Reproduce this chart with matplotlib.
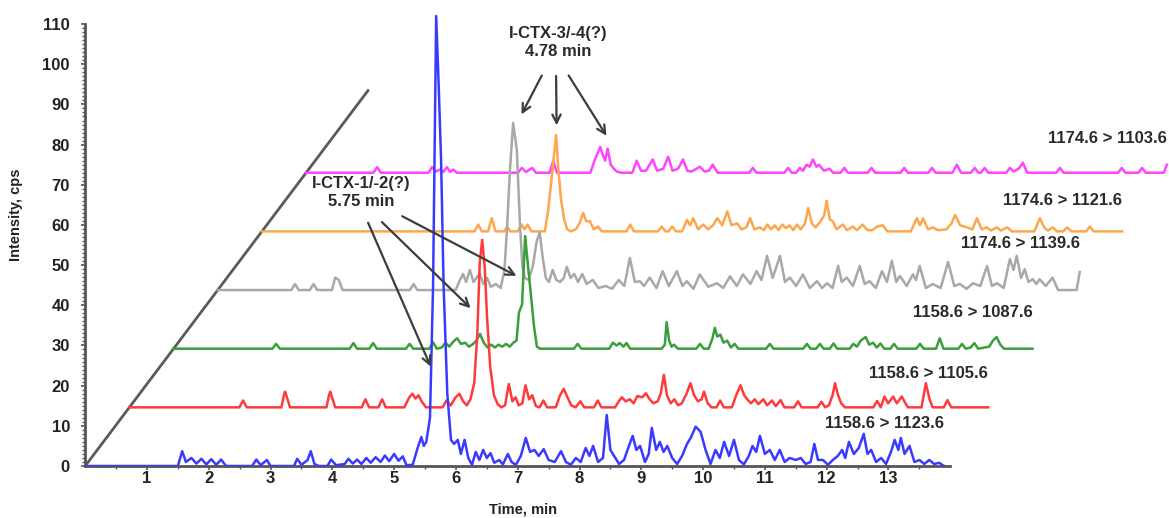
import matplotlib
matplotlib.use("Agg")
import matplotlib.pyplot as plt
from matplotlib.ticker import MultipleLocator

# Each trace: (time in own run, intensity in cps).
# Traces are drawn staggered right/up, like the instrument's 3D overlay.
blue_pts = [(0, 0), (1.5, 0), (1.57, 3.7), (1.63, 1.0), (1.72, 2.0), (1.8, 0.6), (1.88, 1.8), (1.96, 0.4),
            (2.04, 1.7), (2.12, 0.3), (2.2, 1.6), (2.28, 0), (2.7, 0), (2.77, 1.6), (2.84, 0.2), (2.94, 1.5),
            (3.0, 0), (3.38, 0), (3.43, 1.8), (3.5, 0.3), (3.6, 1.5), (3.65, 3.7), (3.71, 0.5), (3.78, 0),
            (3.92, 0), (3.98, 1.6), (4.06, 0.2), (4.2, 0.5), (4.26, 1.8), (4.33, 0.6), (4.4, 1.6), (4.47, 0.5),
            (4.55, 2.0), (4.62, 0.8), (4.7, 2.2), (4.78, 1.0), (4.85, 2.6), (4.92, 1.2), (5.0, 3.0), (5.07, 1.3),
            (5.14, 2.4), (5.2, 0.2), (5.3, 0.3), (5.38, 4.5), (5.44, 7.2), (5.48, 5.0), (5.52, 6.0), (5.58, 12),
            (5.63, 45), (5.68, 112), (5.72, 95), (5.76, 76), (5.8, 45), (5.86, 18), (5.92, 6.5), (5.97, 5.5),
            (6.03, 6.5), (6.08, 3.0), (6.14, 6.5), (6.2, 2.0), (6.26, 0.3), (6.32, 3.5), (6.38, 1.5), (6.44, 4.0),
            (6.5, 2.0), (6.56, 3.2), (6.62, 0.8), (6.7, 1.5), (6.76, 0.4), (6.84, 3.0), (6.9, 1.0), (6.97, 0.3),
            (7.05, 2.5), (7.13, 7.0), (7.2, 3.5), (7.27, 4.0), (7.34, 2.5), (7.42, 4.2), (7.5, 1.5), (7.6, 1.0),
            (7.7, 3.7), (7.78, 1.0), (7.86, 0.3), (7.94, 2.0), (8.02, 1.0), (8.1, 4.5), (8.16, 2.5), (8.22, 5.0),
            (8.3, 1.0), (8.38, 2.0), (8.44, 12.7), (8.5, 4.0), (8.56, 2.5), (8.64, 0.5), (8.72, 1.5), (8.8, 5.0),
            (8.86, 7.5), (8.92, 4.0), (8.98, 5.0), (9.06, 1.0), (9.12, 3.0), (9.17, 9.5), (9.24, 4.0), (9.3, 6.0),
            (9.36, 3.5), (9.42, 5.0), (9.5, 2.0), (9.58, 0.5), (9.66, 2.5), (9.74, 5.5), (9.8, 7.0), (9.88, 9.8),
            (9.96, 8.5), (10.04, 4.0), (10.12, 0.5), (10.2, 4.0), (10.27, 2.0), (10.34, 6.0), (10.42, 2.5),
            (10.5, 6.5), (10.58, 1.5), (10.66, 0.4), (10.74, 2.5), (10.8, 5.0), (10.86, 3.5), (10.92, 7.5),
            (11.0, 3.0), (11.08, 4.0), (11.16, 1.5), (11.24, 4.0), (11.32, 1.0), (11.4, 2.0), (11.5, 1.5),
            (11.58, 2.0), (11.66, 0.5), (11.74, 1.0), (11.8, 5.5), (11.86, 1.5), (11.94, 1.5), (12.02, 0.3),
            (12.1, 1.5), (12.18, 2.5), (12.25, 4.0), (12.3, 2.0), (12.36, 6.0), (12.44, 3.0), (12.52, 4.5),
            (12.6, 8.0), (12.66, 3.0), (12.72, 4.0), (12.8, 1.0), (12.88, 2.0), (12.96, 0.5), (13.04, 3.5),
            (13.1, 6.5), (13.16, 4.0), (13.2, 7.0), (13.26, 3.0), (13.34, 5.0), (13.42, 1.0), (13.5, 1.5),
            (13.58, 0.5), (13.66, 1.5), (13.74, 0.5), (13.82, 0.8), (13.9, 0)]

red_pts = [(0, 0), (1.78, 0), (1.84, 1.7), (1.9, 0), (2.46, 0), (2.5, 3.0), (2.52, 3.9), (2.56, 2.0), (2.6, 0),
           (3.19, 0), (3.23, 3.0), (3.25, 3.9), (3.29, 2.0), (3.33, 0), (3.76, 0), (3.82, 2.0), (3.88, 0),
           (4.03, 0), (4.09, 2.0), (4.15, 0), (4.45, 0), (4.53, 2.5), (4.58, 3.4), (4.63, 2.2), (4.68, 3.0),
           (4.73, 1.5), (4.8, 0), (5.07, 0), (5.13, 1.7), (5.2, 0.5), (5.28, 2.5), (5.34, 3.4), (5.4, 1.5),
           (5.46, 0.5), (5.52, 2.0), (5.58, 6.0), (5.63, 18), (5.67, 36), (5.71, 41.7), (5.75, 35), (5.79, 22),
           (5.84, 10), (5.9, 3.0), (5.96, 0.8), (6.02, 0), (6.08, 0.5), (6.14, 5.8), (6.2, 1.5), (6.25, 2.5),
           (6.3, 0.5), (6.36, 1.0), (6.41, 5.5), (6.47, 2.0), (6.52, 3.0), (6.58, 0.3), (6.64, 0), (6.7, 1.7),
           (6.76, 0), (6.9, 0), (6.97, 3.0), (7.03, 4.6), (7.09, 2.5), (7.15, 0.5), (7.22, 0), (7.3, 1.5),
           (7.36, 0), (7.52, 0), (7.58, 1.7), (7.64, 0), (7.86, 0), (7.92, 1.5), (7.97, 2.5), (8.03, 1.5),
           (8.1, 2.0), (8.16, 1.0), (8.22, 2.8), (8.3, 2.5), (8.36, 3.5), (8.42, 2.0), (8.48, 1.0), (8.55, 1.5),
           (8.6, 3.5), (8.65, 8.1), (8.7, 3.0), (8.76, 1.0), (8.82, 2.0), (8.88, 0.5), (8.94, 1.0), (9.02, 3.5),
           (9.08, 6.0), (9.14, 3.0), (9.2, 1.5), (9.26, 2.0), (9.3, 3.9), (9.36, 1.0), (9.42, 0), (9.5, 0),
           (9.56, 1.7), (9.62, 0), (9.75, 0), (9.82, 3.0), (9.89, 5.5), (9.95, 3.0), (10.0, 2.0), (10.06, 1.0),
           (10.12, 2.0), (10.18, 0.8), (10.26, 2.0), (10.32, 0.5), (10.4, 1.7), (10.46, 0.3), (10.54, 1.8),
           (10.6, 0), (10.76, 0), (10.82, 1.5), (10.88, 0), (11.14, 0), (11.2, 1.4), (11.26, 0), (11.32, 0.5),
           (11.38, 3.0), (11.42, 6.0), (11.47, 3.0), (11.52, 1.0), (11.58, 0), (12.04, 0), (12.1, 1.6),
           (12.16, 0), (12.22, 2.7), (12.28, 1.0), (12.36, 2.7), (12.42, 1.0), (12.5, 2.7), (12.56, 1.0),
           (12.6, 0), (12.82, 0), (12.89, 6.0), (12.95, 2.0), (13.0, 0), (13.18, 0), (13.24, 1.8), (13.3, 0),
           (13.9, 0)]

green_pts = [(0, 0), (1.6, 0), (1.66, 1.2), (1.72, 0), (2.85, 0), (2.91, 1.4), (2.97, 0), (3.17, 0), (3.23, 1.4),
             (3.29, 0), (3.76, 0), (3.82, 1.2), (3.88, 0), (4.14, 0), (4.2, 1.6), (4.26, 0), (4.34, 0.3),
             (4.4, 1.5), (4.46, 0.5), (4.53, 1.8), (4.59, 2.6), (4.65, 1.2), (4.72, 1.5), (4.78, 0.5), (4.85, 1.2),
             (4.9, 2.0), (4.96, 3.7), (5.02, 1.5), (5.08, 0.3), (5.14, 1.0), (5.2, 0.3), (5.26, 1.0), (5.32, 0.5),
             (5.38, 1.2), (5.44, 0.5), (5.5, 1.5), (5.55, 2.0), (5.59, 9.0), (5.64, 11), (5.69, 28), (5.74, 20),
             (5.78, 14), (5.83, 6), (5.88, 0.5), (5.93, 0), (6.48, 0), (6.54, 1.2), (6.6, 0), (7.05, 0),
             (7.11, 1.5), (7.17, 0.8), (7.22, 1.4), (7.28, 0.5), (7.33, 1.4), (7.39, 0), (7.9, 0), (7.95, 1.0),
             (7.98, 6.6), (8.02, 2.0), (8.06, 0.5), (8.1, 1.0), (8.16, 0), (8.46, 0), (8.52, 1.2), (8.58, 0),
             (8.66, 0), (8.72, 2.5), (8.76, 5.2), (8.8, 3.0), (8.85, 3.5), (8.9, 1.5), (8.96, 2.0), (9.02, 0.3),
             (9.08, 1.2), (9.14, 0), (9.59, 0), (9.65, 1.2), (9.71, 0), (10.19, 0), (10.25, 1.2), (10.31, 0),
             (10.4, 0), (10.46, 1.2), (10.52, 0), (10.62, 0), (10.68, 1.3), (10.74, 0), (10.94, 0), (11.0, 1.2),
             (11.06, 0.5), (11.12, 2.0), (11.2, 2.9), (11.26, 1.0), (11.32, 1.5), (11.38, 0.3), (11.44, 1.3),
             (11.5, 0), (11.6, 0), (11.66, 1.2), (11.72, 0), (12.02, 0), (12.08, 1.2), (12.14, 0), (12.34, 0),
             (12.4, 2.6), (12.46, 0), (12.7, 0), (12.76, 1.2), (12.82, 0), (12.9, 0.3), (12.96, 1.4), (13.02, 0),
             (13.2, 0.5), (13.26, 2.0), (13.32, 2.9), (13.38, 1.0), (13.44, 0), (13.9, 0)]

gray_pts = [(0, 0), (1.19, 0), (1.25, 1.5), (1.31, 0), (1.49, 0), (1.55, 1.5), (1.61, 0), (1.85, 0), (1.9, 3.1),
            (1.96, 2.5), (2.02, 0), (3.11, 0), (3.17, 1.5), (3.23, 0), (3.85, 0), (3.92, 2.5), (3.97, 4.0),
            (4.02, 2.0), (4.08, 5.0), (4.14, 2.0), (4.2, 3.3), (4.24, 4.0), (4.3, 1.5), (4.36, 3.0), (4.42, 0.8),
            (4.5, 1.5), (4.58, 0.5), (4.64, 5), (4.68, 15), (4.73, 30), (4.78, 41.6), (4.84, 35), (4.89, 16.7),
            (4.93, 6), (4.97, 3.0), (5.03, 2.5), (5.1, 6), (5.16, 12), (5.21, 14.4), (5.26, 8), (5.31, 3),
            (5.36, 2), (5.42, 5), (5.48, 2.5), (5.54, 2), (5.6, 3), (5.65, 5.8), (5.71, 3.0), (5.77, 4.0),
            (5.83, 2.0), (5.9, 4.0), (5.97, 1.5), (6.07, 2.5), (6.16, 0.5), (6.28, 1.0), (6.38, 0.3), (6.49, 2.5),
            (6.58, 1.0), (6.67, 8.0), (6.75, 2.0), (6.83, 2.2), (6.9, 1.0), (6.99, 3.1), (7.1, 0.5), (7.2, 4.7),
            (7.3, 1.0), (7.43, 4.7), (7.52, 1.0), (7.59, 2.2), (7.7, 0.3), (7.8, 3.9), (7.94, 0.8), (8.08, 1.7),
            (8.18, 0.5), (8.29, 3.4), (8.4, 1.0), (8.5, 3.9), (8.62, 1.5), (8.72, 4.7), (8.8, 2.5), (8.89, 8.5),
            (8.98, 3.0), (9.1, 8.5), (9.18, 2.0), (9.26, 3.1), (9.36, 1.0), (9.47, 3.9), (9.58, 0.5), (9.7, 2.2),
            (9.78, 0.5), (9.86, 1.7), (9.95, 0.5), (10.04, 6.0), (10.1, 2.0), (10.18, 3.1), (10.28, 1.0),
            (10.39, 6.0), (10.47, 1.5), (10.55, 2.2), (10.65, 0.5), (10.75, 4.7), (10.83, 2.0), (10.91, 7.3),
            (10.98, 2.0), (11.04, 3.5), (11.15, 1.0), (11.25, 3.9), (11.3, 2.5), (11.36, 6.0), (11.46, 0.5),
            (11.57, 1.5), (11.7, 0.5), (11.82, 7.0), (11.92, 1.0), (12.01, 1.5), (12.12, 0.3), (12.22, 1.7),
            (12.34, 1.0), (12.45, 6.0), (12.53, 1.0), (12.61, 1.7), (12.72, 0.5), (12.82, 7.7), (12.88, 5.0),
            (12.93, 8.5), (13.0, 3.0), (13.06, 5.2), (13.12, 2.0), (13.19, 2.7), (13.25, 1.5), (13.3, 2.7),
            (13.4, 1.0), (13.51, 3.1), (13.6, 0), (13.9, 0), (13.95, 4.5)]

orange_pts = [(0, 0), (3.44, 0), (3.5, 1.7), (3.56, 0), (3.66, 0), (3.72, 3.3), (3.78, 0), (3.92, 0), (3.97, 1.2),
              (4.02, 0), (4.14, 0), (4.2, 1.7), (4.25, 0.5), (4.3, 1.7), (4.36, 0), (4.58, 0), (4.63, 5),
              (4.68, 12), (4.72, 18), (4.76, 24), (4.8, 15), (4.84, 8), (4.89, 3), (4.94, 0.5), (5.0, 0),
              (5.08, 0.5), (5.14, 2.0), (5.2, 4.6), (5.25, 2.5), (5.31, 2.5), (5.37, 0.5), (5.44, 1.2), (5.5, 0),
              (5.9, 0), (5.96, 1.7), (6.02, 0), (6.41, 0), (6.47, 1.2), (6.53, 0), (6.58, 0), (6.64, 1.2),
              (6.7, 0), (6.8, 0), (6.88, 2.9), (6.93, 1.5), (6.98, 3.3), (7.06, 0.5), (7.14, 1.7), (7.22, 0.5),
              (7.3, 1.5), (7.37, 3.3), (7.45, 1.5), (7.53, 5.0), (7.6, 1.5), (7.69, 2.0), (7.76, 0.5), (7.84, 1.0),
              (7.9, 3.3), (7.97, 0.5), (8.06, 1.0), (8.12, 0.3), (8.18, 1.7), (8.24, 0.5), (8.3, 1.5), (8.36, 0.3),
              (8.42, 1.7), (8.48, 0.8), (8.54, 1.5), (8.6, 0.3), (8.66, 1.7), (8.72, 0.5), (8.79, 2.0),
              (8.84, 5.8), (8.9, 2.0), (8.96, 1.0), (9.04, 2.5), (9.1, 4.0), (9.14, 7.6), (9.19, 3.0),
              (9.24, 2.5), (9.3, 0.5), (9.4, 1.7), (9.47, 0.3), (9.56, 1.2), (9.63, 0.3), (9.72, 1.7), (9.8, 0.3),
              (9.88, 0.3), (9.95, 1.2), (10.05, 1.5), (10.12, 0), (10.5, 0), (10.56, 2.0), (10.6, 3.3),
              (10.65, 1.5), (10.7, 3.3), (10.78, 0.5), (10.86, 1.0), (10.94, 0.3), (11.08, 0.5), (11.16, 2.0),
              (11.22, 4.1), (11.3, 1.5), (11.41, 1.0), (11.5, 0.5), (11.57, 3.3), (11.65, 0.5), (11.73, 1.0),
              (11.8, 0.2), (11.89, 1.0), (11.96, 0.2), (12.06, 1.0), (12.14, 0), (12.5, 0), (12.59, 3.3),
              (12.66, 1.0), (12.72, 0.2), (12.8, 1.0), (12.87, 0), (12.97, 0), (13.03, 1.0), (13.1, 0),
              (13.34, 0), (13.4, 1.2), (13.46, 0), (13.92, 0)]

magenta_pts = [(0, 0), (1.09, 0), (1.15, 1.4), (1.21, 0), (1.98, 0), (2.04, 1.4), (2.1, 0.3), (2.17, 0.8),
               (2.22, 0.2), (2.28, 1.4), (2.33, 0.2), (2.38, 0.8), (2.44, 0), (3.43, 0), (3.49, 1.2), (3.56, 0.2),
               (3.66, 1.2), (3.72, 0), (3.94, 0), (4.0, 3.0), (4.06, 0), (4.6, 0), (4.68, 3.5), (4.76, 6.4),
               (4.8, 4.5), (4.84, 3), (4.88, 6), (4.93, 2), (4.98, 1), (5.03, 0.3), (5.1, 0), (5.28, 0),
               (5.35, 3.0), (5.42, 0.5), (5.5, 0.5), (5.61, 3.3), (5.68, 0.5), (5.78, 1.0), (5.86, 4.0),
               (5.93, 0.5), (6.02, 1.0), (6.1, 3.3), (6.17, 0.5), (6.24, 0.3), (6.32, 1.0), (6.37, 1.5),
               (6.45, 0.3), (6.52, 0.5), (6.58, 2.0), (6.66, 0), (7.17, 0), (7.23, 1.2), (7.29, 0), (7.74, 0),
               (7.8, 1.2), (7.86, 0), (7.93, 0), (7.99, 1.2), (8.04, 0.5), (8.1, 2.0), (8.15, 1.5), (8.2, 3.3),
               (8.26, 1.5), (8.3, 2.0), (8.38, 0.5), (8.47, 1.0), (8.53, 0), (8.65, 0), (8.71, 1.2), (8.77, 0),
               (9.09, 0), (9.15, 1.2), (9.21, 0), (9.62, 0), (9.68, 1.2), (9.74, 0), (10.07, 0), (10.13, 1.2),
               (10.19, 0), (10.46, 0), (10.53, 2.0), (10.6, 0), (10.76, 0), (10.82, 1.2), (10.88, 0), (10.92, 0),
               (10.98, 1.2), (11.04, 0), (11.33, 0), (11.39, 1.2), (11.45, 0.3), (11.53, 1.0), (11.6, 2.5),
               (11.67, 0), (12.14, 0), (12.2, 1.2), (12.26, 0), (13.14, 0), (13.2, 1.2), (13.26, 0), (13.47, 0),
               (13.53, 1.2), (13.59, 0), (13.88, 0), (13.93, 2.0)]

traces = [blue_pts, red_pts, green_pts, gray_pts, orange_pts, magenta_pts]
colors = ["#3a3aff", "#ff3a3a", "#3a9e3a", "#a8a8a8", "#ffa64d", "#ff44ff"]
transitions = ["1158.6 > 1123.6", "1158.6 > 1105.6", "1158.6 > 1087.6",
               "1174.6 > 1139.6", "1174.6 > 1121.6", "1174.6 > 1103.6"]
label_y = [10.7, 23.1, 38.3, 55.3, 66.2, 81.6]

# stagger of each trace in the overlay
dx = 0.715
dy = 14.6

yticks = list(range(0, 111, 10))
xticks = list(range(1, 14))

plt.rcParams["font.family"] = ["Liberation Sans Narrow", "Liberation Sans", "DejaVu Sans"]
plt.rcParams["font.weight"] = "bold"

fig = plt.figure(figsize=(11.69, 5.18), dpi=100)
ax = fig.add_axes([85.2 / 1169, 52 / 518, (1169 - 85.2) / 1169, 462 / 518])
ax.set_xlim(0, 17.54)
ax.set_ylim(0, 115)

# perspective guide through the start of each trace
ax.plot([0, 6.4 * dx], [0, 6.4 * dy], color="#5a5a5a", lw=2, zorder=1)

n = len(traces)
for i in range(n - 1, -1, -1):
    pts = traces[i]
    t = [p[0] + i * dx for p in pts]
    y = [p[1] + i * dy for p in pts]
    ax.plot(t, y, color=colors[i], lw=1.8, zorder=2 + n - i)
    ax.text(pts[-1][0] + i * dx, label_y[i], transitions[i],
            ha="right", va="center", fontsize=12, color="#2a2a2a")

for s in ["top", "right"]:
    ax.spines[s].set_visible(False)
for s in ["left", "bottom"]:
    ax.spines[s].set_color("#555555")
    ax.spines[s].set_linewidth(2)
ax.spines["left"].set_bounds(0, 110)
ax.spines["bottom"].set_bounds(0, 14)

ax.set_yticks(yticks)
ax.set_xticks(xticks)
ax.set_xticks([m * 0.5 for m in range(0, 29) if m % 2 == 1], minor=True)
ax.set_yticks([m for m in range(0, 111) if m % 10 != 0], minor=True)
ax.tick_params(axis="both", which="major", length=3, width=1.2, color="#555555",
               labelsize=12, labelcolor="#222222")
ax.tick_params(axis="y", which="major", pad=8)
ax.tick_params(axis="x", which="major", pad=0.5)
ax.tick_params(axis="both", which="minor", length=2, width=1, color="#555555")

fig.text(16 / 1169, 1 - 215 / 518, "Intensity, cps", rotation=90, ha="center", va="center",
         fontsize=10.5, color="#222222")
fig.text(523 / 1169, 1 - 510 / 518, "Time, min", ha="center", va="center",
         fontsize=10.5, color="#222222")

# annotations
arrow = dict(arrowstyle="->,head_length=0.6,head_width=0.3", color="#3c3c3c", lw=1.6)
ax.text(4.46, 68.2, "I-CTX-1/-2(?)\n5.75 min", ha="center", va="center", fontsize=12,
        color="#2a2a2a", linespacing=1.25)
for start, tip in [((4.56, 61.2), (5.61, 24.1)), ((4.77, 61.2), (6.27, 38.8)), ((5.09, 62.5), (7.02, 47.0))]:
    ax.annotate("", xy=tip, xytext=start, arrowprops=arrow, zorder=20)

ax.text(7.65, 105.3, "I-CTX-3/-4(?)\n4.78 min", ha="center", va="center", fontsize=12,
        color="#2a2a2a", linespacing=1.25)
for start, tip in [((7.41, 97.8), (7.04, 86.9)), ((7.62, 97.8), (7.63, 84.1)), ((7.8, 97.8), (8.46, 81.6))]:
    ax.annotate("", xy=tip, xytext=start, arrowprops=arrow, zorder=20)

fig.savefig("out.png", dpi=100)
